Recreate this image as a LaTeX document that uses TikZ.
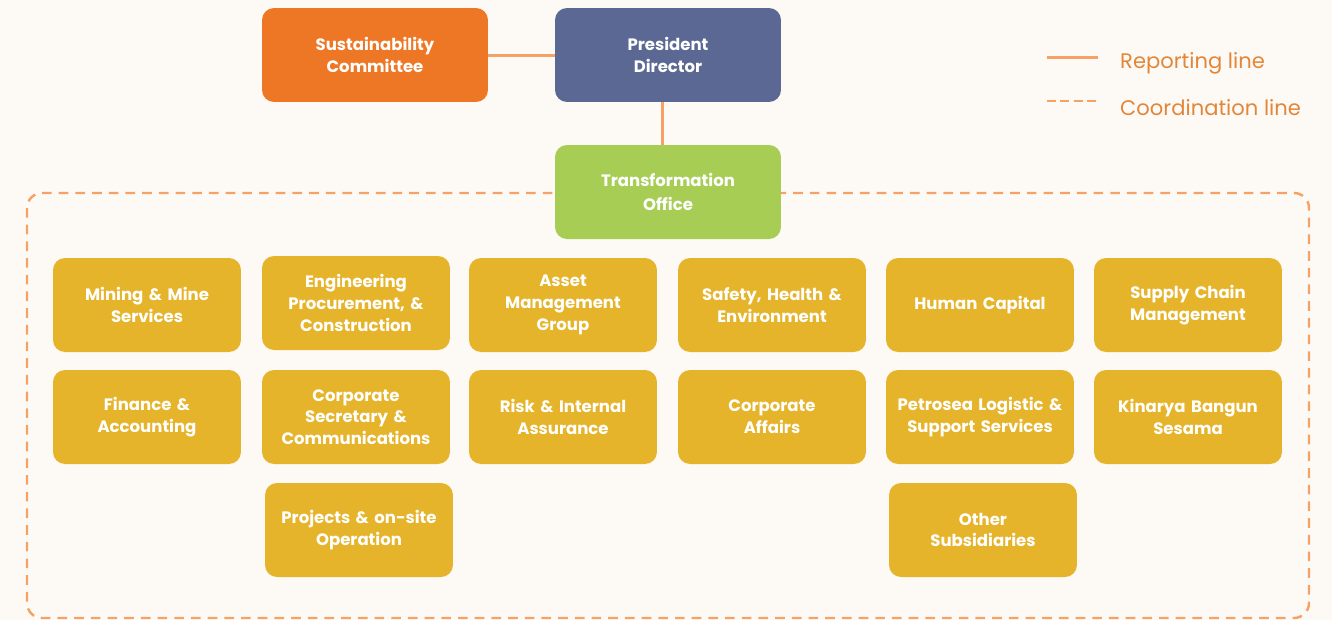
\documentclass[tikz,border=0pt]{standalone}
\usepackage{fontspec}
\setmainfont{Poppins}
\usetikzlibrary{positioning}
\definecolor{bgcream}{HTML}{FDFAF5}
\definecolor{sccolor}{HTML}{EE7726}
\definecolor{pdcolor}{HTML}{5A6893}
\definecolor{tocolor}{HTML}{A8CD55}
\definecolor{unitcolor}{HTML}{E6B42A}
\definecolor{linecolor}{HTML}{F5A266}
\definecolor{legendtext}{HTML}{E2873A}

\begin{document}
\begin{tikzpicture}[x=0.02cm,y=-0.02cm,
            box/.style={rounded corners=0.24cm,fill=#1,text=white,align=center,
                minimum height=1.88cm,inner sep=0pt,
                font=\fontsize{9.4}{12.4}\selectfont\bfseries},
            topbox/.style={box=#1,minimum width=4.52cm},
            unit/.style={box=unitcolor,minimum width=3.76cm,text width=3.6cm},
            report/.style={linecolor,line width=1.7pt},
            coord/.style={linecolor,line width=1.4pt,dash pattern=on 5.5pt off 4pt},
        ]
        \fill[bgcream] (0,0) rectangle (1332,620);
        \useasboundingbox (0,0) rectangle (1332,620);
        % coordination area
        \draw[coord,rounded corners=0.3cm] (27,193) rectangle (1309,618);
        % top
        \node[topbox=sccolor] (sc) at (375,55) {Sustainability\\Committee};
        \node[topbox=pdcolor] (pd) at (668,55) {President\\Director};
        \node[topbox=tocolor] (to) at (668,192) {Transformation\\[1pt]Office};
        \draw[report] (sc.east) -- (pd.west);
        \draw[report] ([xshift=-0.12cm]pd.south) -- ([xshift=-0.12cm]to.north);
        % units, row 1
        \node[unit] (mms) at (147,305) {Mining \& Mine\\Services};
        \node[unit] (epc) at (356,303) {Engineering\\Procurement, \&\\Construction};
        \node[unit] (amg) at (563,305) {Asset\\Management\\Group};
        \node[unit] (she) at (772,305) {Safety, Health \&\\Environment};
        \node[unit] (hc) at (980,305) {Human Capital};
        \node[unit] (scm) at (1188,305) {Supply Chain\\Management};
        % units, row 2
        \node[unit] (fa) at (147,417) {Finance \&\\Accounting};
        \node[unit] (csc) at (356,417) {Corporate\\Secretary \&\\Communications};
        \node[unit] (ria) at (563,417) {Risk \& Internal\\Assurance};
        \node[unit] (ca) at (772,417) {Corporate\\Affairs};
        \node[unit] (plss) at (980,417) {Petrosea Logistic \&\\Support Services};
        \node[unit] (kbs) at (1188,417) {Kinarya Bangun\\Sesama};
        % units, row 3
        \node[unit] (poo) at (359,530) {Projects \& on-site\\Operation};
        \node[unit] (os) at (983,530) {Other\\Subsidiaries};
        % legend
        \coordinate (lga) at (1047,57);
        \coordinate (lgb) at (1098,57);
        \coordinate (lgc) at (1047,101);
        \coordinate (lgd) at (1098,101);
        \draw[report] (lga) -- (lgb);
        \draw[linecolor,line width=1.6pt,dash pattern=on 5pt off 2.6pt] (lgc) -- (lgd);
        \node[anchor=west,text=legendtext,font=\fontsize{12}{14}\selectfont] (lgr) at (1114,63) {Reporting line};
        \node[anchor=west,text=legendtext,font=\fontsize{12}{14}\selectfont] (lgk) at (1114,108) {Coordination line};
    \end{tikzpicture}
\end{document}
